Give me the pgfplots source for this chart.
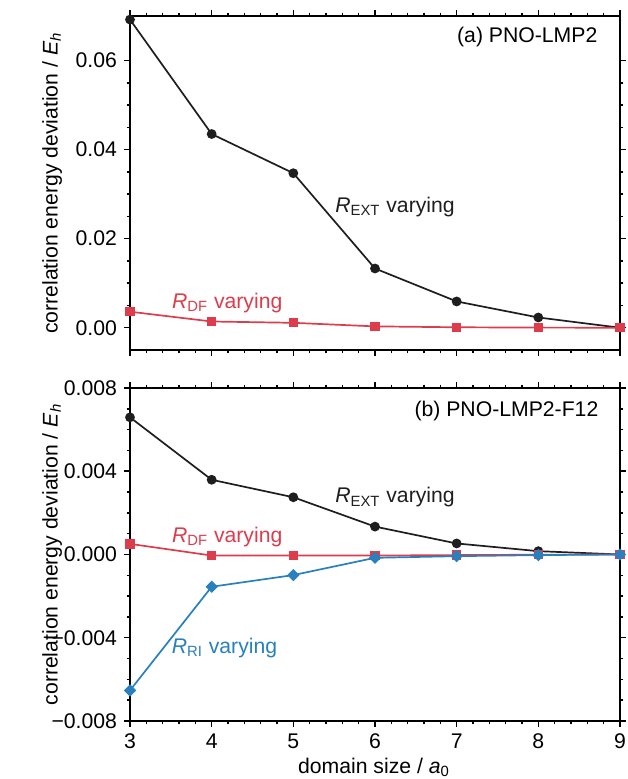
\documentclass[border=0pt]{standalone}
\usepackage{fontspec}
\setmainfont{Liberation Sans}
\usepackage{pgfplots}
\pgfplotsset{compat=1.18}
\definecolor{cblk}{RGB}{30,30,30}
\definecolor{cred}{RGB}{220,60,75}
\definecolor{cblu}{RGB}{40,128,190}
\pgfplotsset{
  mystyle/.style={
    scale only axis, width=245pt,
    xmin=3, xmax=9, xtick={3,4,5,6,7,8,9}, minor x tick num=4,
    scaled y ticks=false, scaled x ticks=false,
    tick align=outside, tick pos=both,
    axis line style={line width=1pt},
    major tick length=2.8pt, minor tick length=1.7pt,
    every tick/.style={line width=0.75pt, black},
    /pgf/number format/assume math mode=true,
    tick label style={font=\fontsize{10.6}{12}\selectfont},
    label style={font=\fontsize{10.6}{12}\selectfont},
    ylabel={correlation energy deviation / \textit{E}\textsubscript{\textit{h}}},
    ylabel style={at={(axis description cs:-0.159,0.5)}, anchor=center},
    every axis plot/.append style={line width=0.85pt},
  },
  blk/.style={color=cblk, mark=*, mark size=2pt},
  red/.style={color=cred, mark=square*, mark size=1.9pt},
  blu/.style={color=cblu, mark=square*, mark size=1.75pt, mark options={rotate=45}},
}
\begin{document}
\fontsize{10.6}{12.6}\selectfont
\begin{tikzpicture}[font=\fontsize{10.6}{12.6}\selectfont]
\useasboundingbox (-65pt,-29pt) rectangle (248.5pt,360.5pt);
% top panel
\begin{axis}[mystyle, at={(0pt,185.5pt)}, anchor=south west, height=167pt,
  ymin=-0.005, ymax=0.07, ytick={0,0.02,0.04,0.06},
  yticklabels={0.00,0.02,0.04,0.06}, minor y tick num=3,
  xticklabels={}]
\addplot[blk] coordinates {(3,0.0692) (4,0.0435) (5,0.0347) (6,0.0133) (7,0.0059) (8,0.0023) (9,0.0)};
\addplot[red] coordinates {(3,0.0036) (4,0.0014) (5,0.0011) (6,0.0003) (7,0.0001) (8,0.00003) (9,0.0)};
\node[text=cblk] at (axis cs:6.245,0.0271) {\textit{R}\textsubscript{EXT} varying};
\node[text=cred] at (axis cs:4.19,0.0056) {\textit{R}\textsubscript{DF} varying};
\node[anchor=east] at (rel axis cs:0.969,0.936) {(a) PNO-LMP2};
\end{axis}
% bottom panel
\begin{axis}[mystyle, at={(0pt,0pt)}, anchor=south west, height=166.5pt,
  ymin=-0.008, ymax=0.008, ytick={-0.008,-0.004,0,0.004,0.008},
  yticklabels={−0.008,−0.004,0.000,0.004,0.008}, minor y tick num=3,
  xticklabels={3,4,5,6,7,8,9},
  xlabel={domain size / \textit{a}\textsubscript{0}},
  xlabel style={at={(axis description cs:0.498,0)}, anchor=center, yshift=-23.3pt}]
\addplot[blk] coordinates {(3,0.00659) (4,0.00359) (5,0.00275) (6,0.00134) (7,0.00053) (8,0.00016) (9,0.0)};
\addplot[red] coordinates {(3,0.00051) (4,-0.00005) (5,-0.00005) (6,-0.00005) (7,-0.00003) (8,-0.00001) (9,0.0)};
\addplot[blu] coordinates {(3,-0.00653) (4,-0.00155) (5,-0.00099) (6,-0.00016) (7,-0.00008) (8,-0.00003) (9,0.0)};
\node[text=cblk] at (axis cs:6.245,0.00274) {\textit{R}\textsubscript{EXT} varying};
\node[text=cred] at (axis cs:4.19,0.00086) {\textit{R}\textsubscript{DF} varying};
\node[text=cblu] at (axis cs:4.157,-0.00447) {\textit{R}\textsubscript{RI} varying};
\node[anchor=east] at (rel axis cs:0.971,0.931) {(b) PNO-LMP2-F12};
\end{axis}
\end{tikzpicture}
\end{document}
